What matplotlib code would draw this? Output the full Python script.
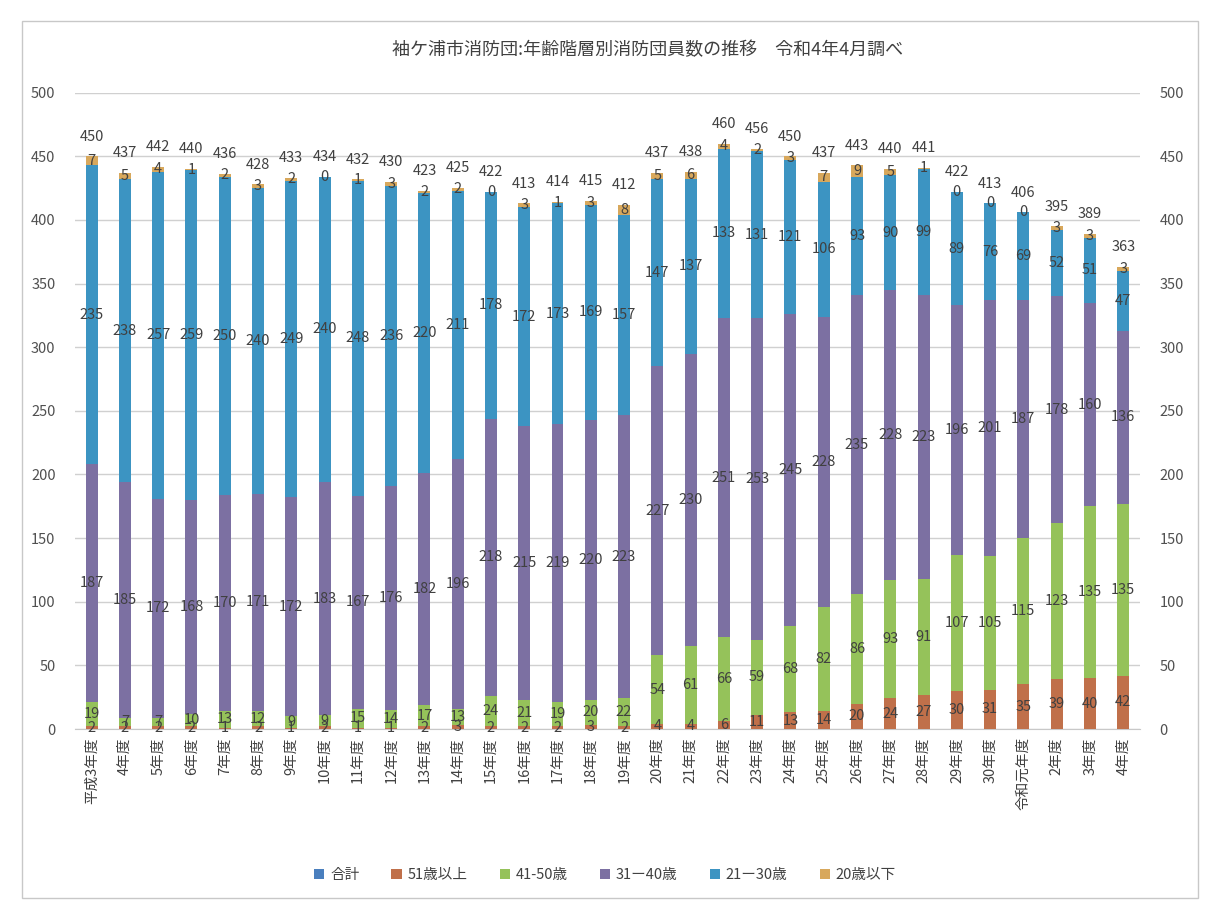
import matplotlib
matplotlib.use("Agg")
import matplotlib.pyplot as plt
from matplotlib.patches import Rectangle
import numpy as np

plt.rcParams['font.family'] = ['Noto Sans CJK JP', 'DejaVu Sans']

# Fiscal years (平成3年度 .. 令和4年度)
years = ['平成3年度'] + [f'{n}年度' for n in range(4, 31)] + ['令和元年度', '2年度', '3年度', '4年度']

# Members by age bracket
age_51_plus = [2, 2, 2, 2, 1, 2, 1, 2, 1, 1, 2, 3, 2, 2, 2, 3, 2, 4, 4, 6,
               11, 13, 14, 20, 24, 27, 30, 31, 35, 39, 40, 42]
age_41_50 = [19, 7, 7, 10, 13, 12, 9, 9, 15, 14, 17, 13, 24, 21, 19, 20, 22, 54, 61, 66,
             59, 68, 82, 86, 93, 91, 107, 105, 115, 123, 135, 135]
age_31_40 = [187, 185, 172, 168, 170, 171, 172, 183, 167, 176, 182, 196, 218, 215, 219, 220, 223, 227, 230, 251,
             253, 245, 228, 235, 228, 223, 196, 201, 187, 178, 160, 136]
age_21_30 = [235, 238, 257, 259, 250, 240, 249, 240, 248, 236, 220, 211, 178, 172, 173, 169, 157, 147, 137, 133,
             131, 121, 106, 93, 90, 99, 89, 76, 69, 52, 51, 47]
age_20_under = [7, 5, 4, 1, 2, 3, 2, 0, 1, 3, 2, 2, 0, 3, 1, 3, 8, 5, 6, 4,
                2, 3, 7, 9, 5, 1, 0, 0, 0, 3, 3, 3]
totals = [450, 437, 442, 440, 436, 428, 433, 434, 432, 430, 423, 425, 422, 413, 414, 415, 412, 437, 438, 460,
          456, 450, 437, 443, 440, 441, 422, 413, 406, 395, 389, 363]

series = [
    ('51歳以上', age_51_plus, '#C0704A'),
    ('41-50歳', age_41_50, '#95C25A'),
    ('31ー40歳', age_31_40, '#7C70A2'),
    ('21ー30歳', age_21_30, '#3C94C2'),
    ('20歳以下', age_20_under, '#D8A85C'),
]
total_color = '#4A7FBE'
text_color = '#404040'

fig = plt.figure(figsize=(12.10, 9.09), dpi=100)
fig.patch.set_facecolor('white')
fig.add_artist(Rectangle((0.018, 0.012), 0.972, 0.965, transform=fig.transFigure,
                         fill=False, edgecolor='#C8C8C8', linewidth=1.0))

ax = fig.add_axes([0.062, 0.198, 0.880, 0.700])
x = np.arange(len(years))
width = 0.36

bottom = np.zeros(len(years))
handles = []
# legend entry for the total series (drawn only as labels)
handles.append(ax.bar([0], [0], width=0, color=total_color, label='合計'))
for name, vals, color in series:
    vals = np.array(vals, dtype=float)
    bars = ax.bar(x, vals, width, bottom=bottom, color=color, label=name, zorder=3)
    handles.append(bars)
    for xi, b, v in zip(x, bottom, vals):
        ax.text(xi, b + v / 2, f'{int(v)}', ha='center', va='center',
                fontsize=10.5, color=text_color, zorder=5)
    bottom += vals

for xi, b, t in zip(x, bottom, totals):
    ax.text(xi, b + 10, f'{t}', ha='center', va='bottom', fontsize=10.5,
            color=text_color, zorder=5)

ax.set_xlim(-0.5, len(years) - 0.5)
ax.set_ylim(0, 500)
ax.set_yticks(range(0, 501, 50))
ax.grid(axis='y', color='#D0D0D0', linewidth=1.0, zorder=0)
ax.set_axisbelow(True)
for s in ['top', 'right', 'left']:
    ax.spines[s].set_visible(False)
ax.spines['bottom'].set_color('#C8C8C8')
ax.tick_params(axis='y', length=0, labelsize=10.5, labelcolor='#505050', pad=14)
ax.tick_params(axis='x', length=0, pad=6)
ax.set_xticks(x)
ax.set_xticklabels(years, rotation=90, fontsize=10.5, color='#404040')

ax2 = ax.twinx()
ax2.set_ylim(0, 500)
ax2.set_yticks(range(0, 501, 50))
for s in ['top', 'right', 'left', 'bottom']:
    ax2.spines[s].set_visible(False)
ax2.tick_params(axis='y', length=0, labelsize=10.5, labelcolor='#505050', pad=14)

fig.text(0.535, 0.945, '袖ケ浦市消防団:年齢階層別消防団員数の推移　令和4年4月調べ',
         ha='center', va='center', fontsize=13, color='#404040')

fig.legend(handles=handles, labels=['合計'] + [s[0] for s in series],
           loc='center', bbox_to_anchor=(0.50, 0.037), ncol=6, frameon=False,
           fontsize=10.5, handlelength=0.7, handleheight=0.7, columnspacing=2.2,
           handletextpad=0.4, labelcolor='#404040')

fig.savefig('out.png', dpi=100, facecolor='white')
